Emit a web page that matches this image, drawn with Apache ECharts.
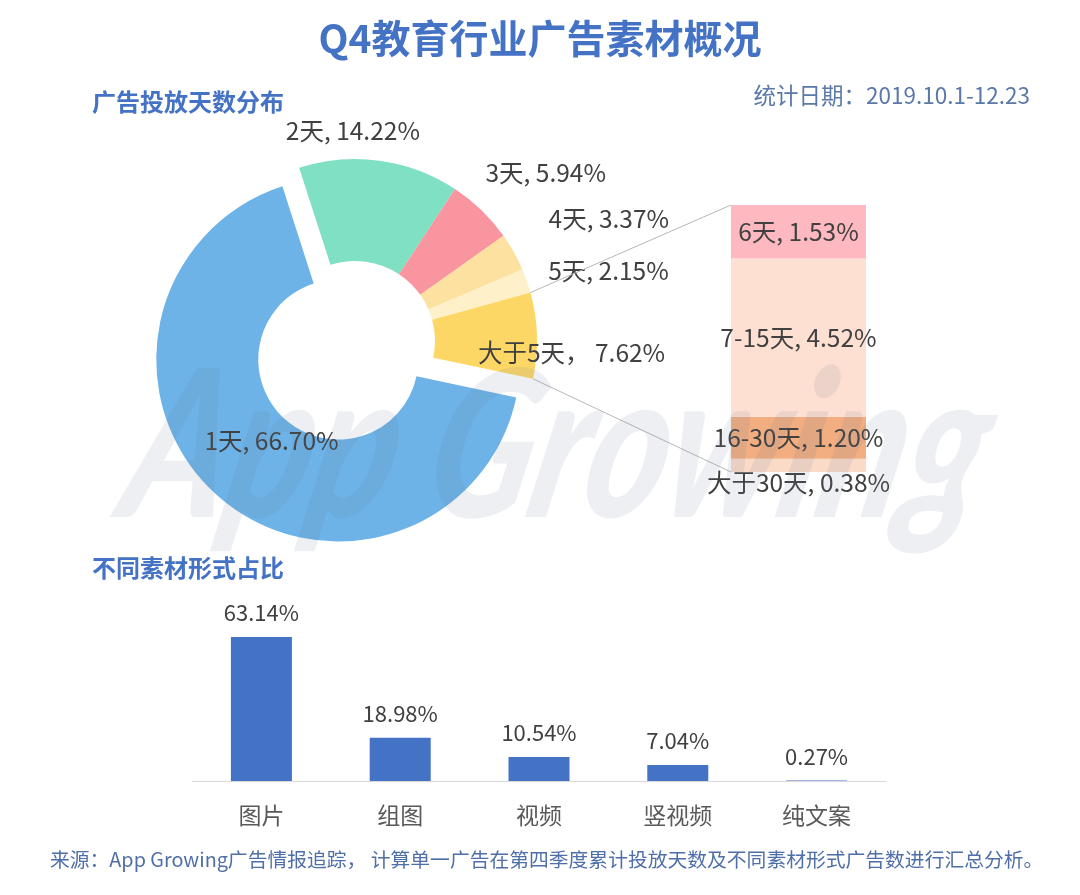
<!DOCTYPE html>
<html><head><meta charset="utf-8">
<script src="https://cdn.jsdelivr.net/npm/echarts@6.0.0/dist/echarts.min.js"></script>
<style>html,body{margin:0;padding:0;background:#fff}#c{width:1080px;height:895px}</style>
</head><body><div id="c"></div>
<script>
// ---- data ----
const pieNames = ['1天', '2天', '3天', '4天', '5天', '大于5天'];
const pieValues = [66.70, 14.22, 5.94, 3.37, 2.15, 7.62];
const subNames = ['大于30天', '16-30天', '7-15天', '6天'];   // bottom -> top
const subValues = [0.38, 1.20, 4.52, 1.53];
const formCategories = ['图片', '组图', '视频', '竖视频', '纯文案'];
const formValues = [63.14, 18.98, 10.54, 7.04, 0.27];

// ---- style ----
const FONT = 'Noto Sans CJK SC';
const BLUE = '#4472C4';
const TXT = '#404040';
const pieColors = ['#6DB3E8', '#7FE0C3', '#F9959F', '#FDE1A0', '#FEF0C9', '#FDD766'];
const subColors = ['#FADBC8', '#F2AE80', '#FEE0D2', '#FDB8C0'];
const PIE_CENTER = [355, 341];
const PIE_R = [80, 182];
const START = -12;
const labelShift = {0: [23, -18], 1: [-100, -20], 2: [-8, -30], 3: [21, -29], 4: [7, -7], 5: [-74, 17]};
const DETAIL_GRID = {left: 731, top: 205, width: 135, height: 267};

const chart = echarts.init(document.getElementById('c'));
const subTotal = subValues.reduce((a, b) => a + b, 0);

// connector lines from the "大于5天" slice to the detail bar, derived from data + layout
const total = pieValues.reduce((a, b) => a + b, 0);
const lastSpan = pieValues[pieValues.length - 1] / total * 360;
const aEnd = START * Math.PI / 180;                 // blue start = yellow end
const aStart = (START + lastSpan) * Math.PI / 180;  // yellow start
const R = PIE_R[1];
const p1 = [PIE_CENTER[0] + R * Math.cos(aStart), PIE_CENTER[1] - R * Math.sin(aStart)];
const p2 = [PIE_CENTER[0] + R * Math.cos(aEnd), PIE_CENTER[1] - R * Math.sin(aEnd)];
const barLeft = DETAIL_GRID.left, barTop = DETAIL_GRID.top, barBottom = DETAIL_GRID.top + DETAIL_GRID.height;

const option = {
  animation: false,
  backgroundColor: '#fff',
  textStyle: {fontFamily: FONT},
  title: [
    {text: 'Q4教育行业广告素材概况', left: 'center', top: 19, padding: 0,
     textStyle: {fontFamily: FONT, fontSize: 39, fontWeight: 'bold', color: BLUE}},
    {text: '广告投放天数分布', left: 92, top: 90, padding: 0,
     textStyle: {fontFamily: FONT, fontSize: 24, fontWeight: 'bold', color: BLUE}},
    {text: '统计日期：2019.10.1-12.23', right: 50, top: 84, padding: 0,
     textStyle: {fontFamily: FONT, fontSize: 22.5, fontWeight: 'normal', color: '#5A78A8'}},
    {text: '不同素材形式占比', left: 92, top: 556, padding: 0,
     textStyle: {fontFamily: FONT, fontSize: 24, fontWeight: 'bold', color: BLUE}},
    {text: '来源：App Growing广告情报追踪， 计算单一广告在第四季度累计投放天数及不同素材形式广告数进行汇总分析。',
     left: 50, top: 850, padding: 0,
     textStyle: {fontFamily: FONT, fontSize: 19.8, fontWeight: 'normal', color: '#4F6FA8'}}
  ],
  grid: [
    DETAIL_GRID,
    {left: 192, top: 637, width: 694, height: 144}
  ],
  xAxis: [
    {gridIndex: 0, type: 'category', data: ['detail'], show: false},
    {gridIndex: 1, type: 'category', data: formCategories,
     axisLine: {lineStyle: {color: '#D9D9D9', width: 1}}, axisTick: {show: false},
     axisLabel: {fontFamily: FONT, fontSize: 23, color: '#595959', margin: 23}}
  ],
  yAxis: [
    {gridIndex: 0, type: 'value', min: 0, max: subTotal, show: false},
    {gridIndex: 1, type: 'value', min: 0, max: 'dataMax', show: false}
  ],
  graphic: [
    {type: 'line', shape: {x1: p1[0], y1: p1[1], x2: barLeft, y2: barTop},
     style: {stroke: '#B8B8B8', lineWidth: 1}, z: 5},
    {type: 'line', shape: {x1: p2[0], y1: p2[1], x2: barLeft, y2: barBottom},
     style: {stroke: '#B8B8B8', lineWidth: 1}, z: 5},
    {type: 'text', left: 108, top: 348, silent: true, z: 50, scaleX: 0.755, skewX: -0.22,
     style: {text: 'App Growing', fontFamily: 'Lato', fontStyle: 'italic', fontWeight: 900,
       fontSize: 205, fill: 'rgba(110,125,150,0.12)'}}
  ],
  series: [
    {
      type: 'pie', center: PIE_CENTER, radius: PIE_R, startAngle: START, clockwise: true,
      avoidLabelOverlap: false, selectedMode: 'single', selectedOffset: 25,
      emphasis: {disabled: true},
      labelLine: {show: false, length: 10, length2: 0},
      label: {position: 'outside', fontFamily: FONT, fontSize: 24.5, color: TXT, alignTo: 'none',
        formatter: p => p.name + (p.name === '大于5天' ? '， ' : ', ') + p.value.toFixed(2) + '%'},
      labelLayout: p => { const s = labelShift[p.dataIndex] || [0, 0]; return {dx: s[0], dy: s[1]}; },
      data: pieNames.map((n, i) => ({
        name: n, value: pieValues[i], selected: i === 0,
        itemStyle: {color: pieColors[i]},
        label: i === 0 ? {position: 'inside'} : {}
      }))
    },
    ...subNames.map((n, i) => ({
      type: 'bar', name: n, stack: 'detail', xAxisIndex: 0, yAxisIndex: 0,
      barWidth: '100%', data: [subValues[i]],
      itemStyle: {color: subColors[i]},
      emphasis: {disabled: true},
      label: {show: true, position: i === 0 ? 'bottom' : 'inside', distance: -2,
        fontFamily: FONT, fontSize: 24.5, color: TXT,
        formatter: p => n + ', ' + p.value.toFixed(2) + '%'}
    })),
    {
      type: 'bar', xAxisIndex: 1, yAxisIndex: 1, data: formValues, barWidth: 61,
      itemStyle: {color: BLUE}, emphasis: {disabled: true},
      label: {show: true, position: 'top', distance: 13, fontFamily: FONT, fontSize: 22, color: TXT,
        formatter: p => p.value.toFixed(2) + '%'}
    }
  ]
};
chart.setOption(option);
</script></body></html>
